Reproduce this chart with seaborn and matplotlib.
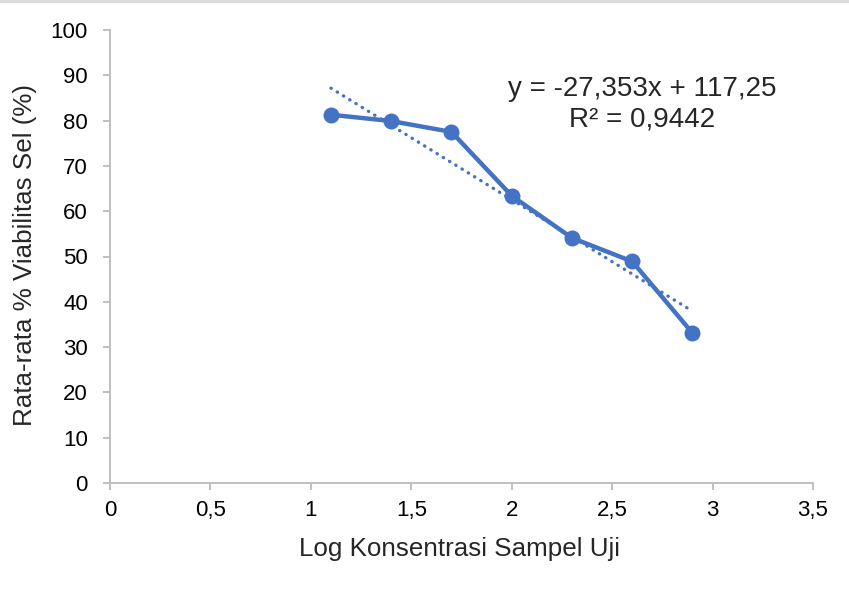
import matplotlib
matplotlib.use("Agg")
import matplotlib.pyplot as plt
import seaborn as sns
import numpy as np
import pandas as pd
from matplotlib.ticker import FuncFormatter, MultipleLocator

log_conc = [1.1, 1.4, 1.7, 2.0, 2.3, 2.6, 2.9]
viability = [81.3, 79.9, 77.5, 63.4, 54.1, 48.9, 33.1]
slope = -27.353
intercept = 117.25
equation_text = "y = -27,353x + 117,25"
r2_text = "R² = 0,9442"
x_label = "Log Konsentrasi Sampel Uji"
y_label = "Rata-rata % Viabilitas Sel (%)"

sns.set_style("white")
plt.rcParams['font.family'] = ['Liberation Sans', 'DejaVu Sans']

df = pd.DataFrame({"x": log_conc, "y": viability})
trend_x = np.array([min(log_conc), max(log_conc)])
trend_df = pd.DataFrame({"x": trend_x, "y": slope * trend_x + intercept})

fig = plt.figure(figsize=(8.49, 5.92), dpi=100)
ax = fig.add_axes([110/849, 1-483/592, (813-110)/849, (483-30)/592])

color = "#4472C4"
sns.lineplot(data=trend_df, x="x", y="y", ax=ax, color=color, linewidth=2.4,
             linestyle=(0, (0.1, 2.1)), dash_capstyle="round")
sns.lineplot(data=df, x="x", y="y", ax=ax, color=color, linewidth=3.2,
             marker="o", markersize=11.5, markeredgewidth=0, markerfacecolor=color)

ax.set_xlim(0, 3.5)
ax.set_ylim(0, 100)
ax.xaxis.set_major_locator(MultipleLocator(0.5))
ax.yaxis.set_major_locator(MultipleLocator(10))

def comma_fmt(v, pos):
    s = f"{v:g}"
    return s.replace(".", ",")

ax.xaxis.set_major_formatter(FuncFormatter(comma_fmt))
ax.yaxis.set_major_formatter(FuncFormatter(comma_fmt))

for side in ["top", "right"]:
    ax.spines[side].set_visible(False)
for side in ["left", "bottom"]:
    ax.spines[side].set_color("#BFBFBF")
    ax.spines[side].set_linewidth(1.4)

ax.tick_params(axis="both", which="major", direction="out", length=5, width=1.4,
               color="#BFBFBF", labelsize=16, labelcolor="black", bottom=True, left=True)
ax.tick_params(axis="y", pad=11)
ax.tick_params(axis="x", pad=18.5)
for lbl in ax.get_xticklabels():
    lbl.set_verticalalignment("baseline")

ax.set_xlabel(x_label, fontsize=18.7)
ax.set_ylabel(y_label, fontsize=18.7)
ax.xaxis.set_label_coords(460/849, 1-549/592, transform=fig.transFigure)
ax.yaxis.set_label_coords(25/849, 1-255/592, transform=fig.transFigure)
ax.xaxis.label.set_verticalalignment("center")
ax.yaxis.label.set_verticalalignment("center")

ax.text(642/849, 1-89/592, equation_text, transform=fig.transFigure, ha="center",
        va="center", fontsize=20)
ax.text(642/849, 1-120/592, r2_text, transform=fig.transFigure, ha="center",
        va="center", fontsize=20)

fig.add_artist(plt.Line2D([0, 1], [1-1/592, 1-1/592], transform=fig.transFigure,
                          color="#D9D9D9", linewidth=2))

fig.savefig("out.png", dpi=100)
